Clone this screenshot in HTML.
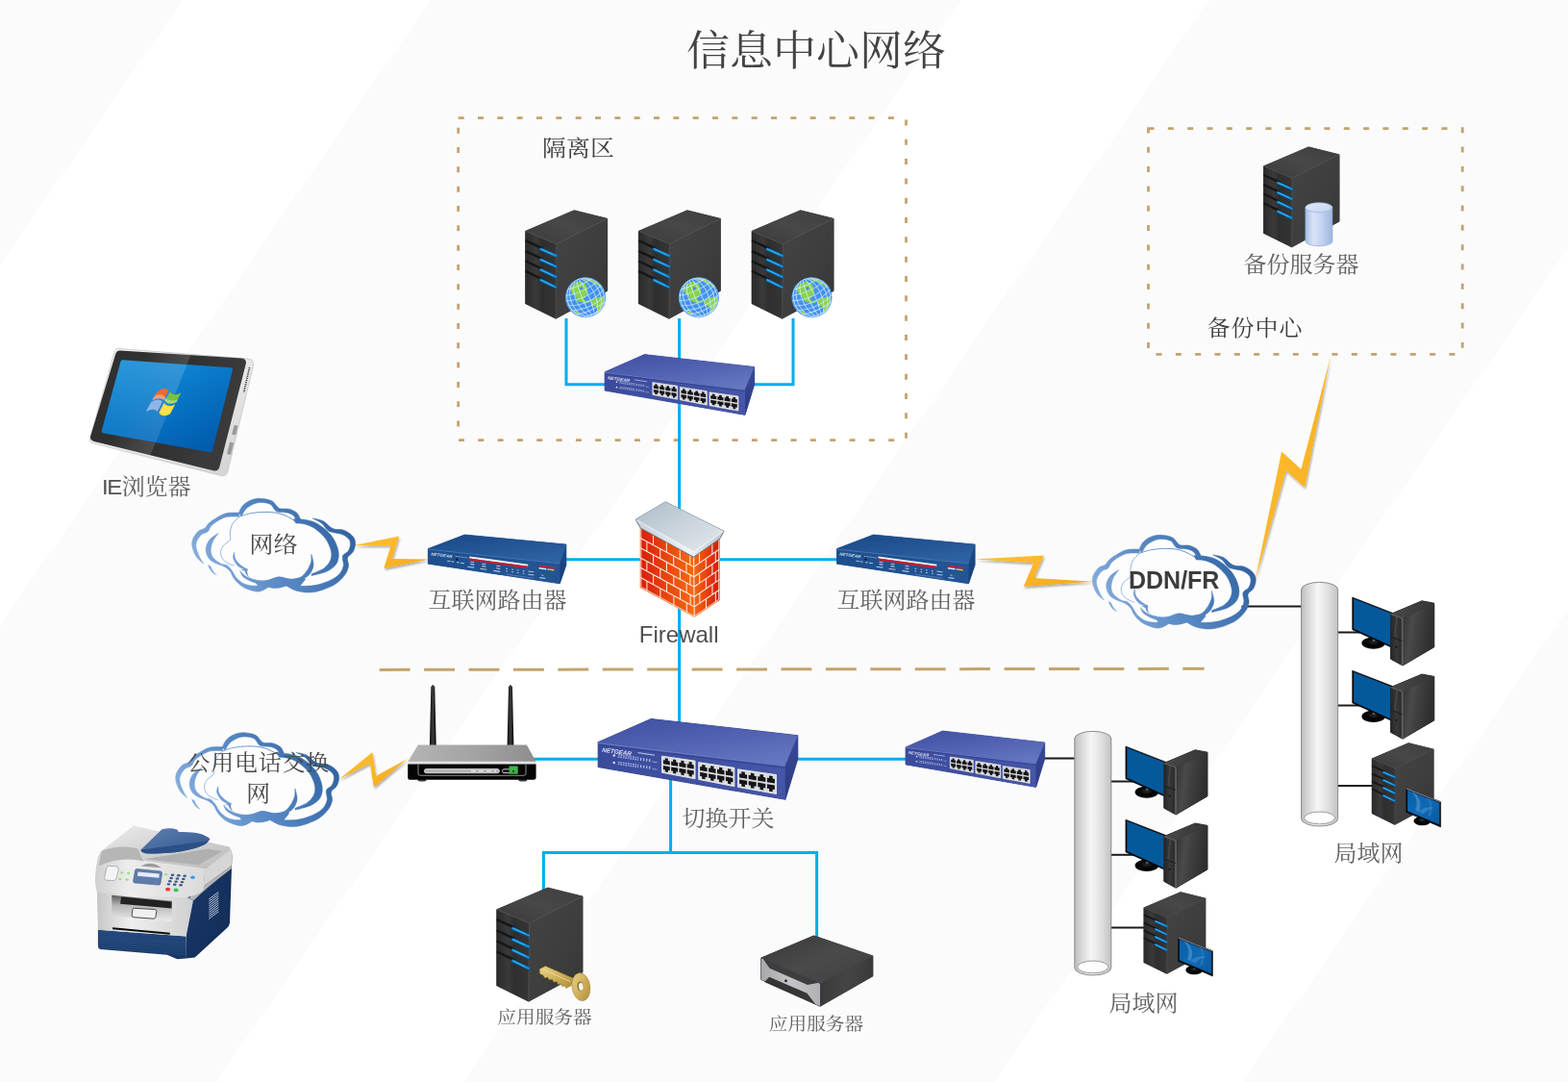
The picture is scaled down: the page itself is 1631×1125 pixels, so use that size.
<!DOCTYPE html>
<html lang="zh-CN">
<head>
<meta charset="utf-8">
<title>信息中心网络</title>
<style>
html,body{margin:0;padding:0;background:#fbfbfb;}
body{width:1631px;height:1125px;overflow:hidden;font-family:"Liberation Sans","Noto Sans CJK SC",sans-serif;}
svg{display:block;}
</style>
</head>
<body>
<svg width="1631" height="1125" viewBox="0 0 1631 1125">
<defs>
<linearGradient id="twTop" x1="0" y1="1" x2="1" y2="0" gradientUnits="objectBoundingBox"><stop offset="0" stop-color="#3a3a3a"/><stop offset="0.5" stop-color="#484848"/><stop offset="1" stop-color="#3e3e3e"/></linearGradient><linearGradient id="twFront" x1="0" y1="0" x2="1" y2="0" gradientUnits="objectBoundingBox"><stop offset="0" stop-color="#2a2a2a"/><stop offset="0.35" stop-color="#3a3a3a"/><stop offset="0.55" stop-color="#2e2e2e"/><stop offset="1" stop-color="#353535"/></linearGradient><linearGradient id="twSide" x1="0" y1="0" x2="1" y2="1" gradientUnits="objectBoundingBox"><stop offset="0" stop-color="#444444"/><stop offset="0.6" stop-color="#3d3d3d"/><stop offset="1" stop-color="#363636"/></linearGradient><linearGradient id="twLed" x1="0" y1="0" x2="0" y2="1" gradientUnits="objectBoundingBox"><stop offset="0" stop-color="#0a6fb0"/><stop offset="0.45" stop-color="#2cb4ff"/><stop offset="1" stop-color="#0a5f9c"/></linearGradient><g id="tower"><polygon points="50.60,0.00 85.10,8.60 85.10,83.70 31.60,112.60 0.00,97.00 0.00,21.60" fill="#2b2b2b" stroke="#2b2b2b" stroke-width="0.7" stroke-linejoin="round"/><polygon points="0.00,21.60 32.20,35.00 31.60,112.60 0.00,97.00" fill="url(#twFront)" /><polygon points="32.20,35.00 85.10,8.60 85.10,83.70 31.60,112.60" fill="url(#twSide)" /><polygon points="50.60,0.00 85.10,8.60 32.20,35.00 0.00,21.60" fill="url(#twTop)" /><polyline points="0.00,21.60 32.20,35.00 85.10,8.60" fill="none" stroke="#5a5a5a" stroke-width="0.9" stroke-opacity="0.8"/><line x1="32.2" y1="35" x2="31.6" y2="112.6" stroke="#505050" stroke-width="0.9"/><line x1="0.00" y1="31.50" x2="17.99" y2="39.61" stroke="#161616" stroke-width="2.4"/><line x1="16.05" y1="40.39" x2="31.81" y2="47.26" stroke="#0a4f86" stroke-width="3.6" stroke-linecap="round"/><line x1="16.05" y1="40.39" x2="31.81" y2="47.26" stroke="#1793dc" stroke-width="2" stroke-linecap="round"/><line x1="16.55" y1="40.19" x2="28.11" y2="45.66" stroke="#45b9f5" stroke-width="0.8" stroke-linecap="round"/><line x1="0.00" y1="42.35" x2="17.94" y2="50.64" stroke="#161616" stroke-width="2.4"/><line x1="16.01" y1="51.40" x2="31.72" y2="58.44" stroke="#0a4f86" stroke-width="3.6" stroke-linecap="round"/><line x1="16.01" y1="51.40" x2="31.72" y2="58.44" stroke="#1793dc" stroke-width="2" stroke-linecap="round"/><line x1="16.51" y1="51.20" x2="28.02" y2="56.84" stroke="#45b9f5" stroke-width="0.8" stroke-linecap="round"/><line x1="0.00" y1="52.76" x2="17.90" y2="61.22" stroke="#161616" stroke-width="2.4"/><line x1="15.97" y1="61.96" x2="31.64" y2="69.14" stroke="#0a4f86" stroke-width="3.6" stroke-linecap="round"/><line x1="15.97" y1="61.96" x2="31.64" y2="69.14" stroke="#1793dc" stroke-width="2" stroke-linecap="round"/><line x1="16.47" y1="61.76" x2="27.94" y2="67.54" stroke="#45b9f5" stroke-width="0.8" stroke-linecap="round"/><line x1="0.00" y1="63.17" x2="17.85" y2="71.79" stroke="#161616" stroke-width="2.4"/><line x1="15.93" y1="72.52" x2="31.55" y2="79.85" stroke="#0a4f86" stroke-width="3.6" stroke-linecap="round"/><line x1="15.93" y1="72.52" x2="31.55" y2="79.85" stroke="#1793dc" stroke-width="2" stroke-linecap="round"/><line x1="16.43" y1="72.32" x2="27.85" y2="78.25" stroke="#45b9f5" stroke-width="0.8" stroke-linecap="round"/></g><radialGradient id="glb" cx="0.42" cy="0.4" r="0.7" gradientUnits="objectBoundingBox"><stop offset="0" stop-color="#4a9af2"/><stop offset="0.7" stop-color="#3d8eec"/><stop offset="1" stop-color="#3384e4"/></radialGradient><clipPath id="glbClip"><circle cx="0" cy="0" r="20.7"/></clipPath><g id="globe"><circle cx="0" cy="0" r="20.9" fill="url(#glb)"/><g clip-path="url(#glbClip)"><path d="M-15.8,-9.3 C-15.4,-11.1 -12.4,-13.3 -11.0,-14.5 C-9.6,-15.7 -8.9,-16.4 -7.3,-16.4 C-5.6,-16.4 -2.6,-15.7 -1.1,-14.7 C0.4,-13.7 1.1,-12.0 1.6,-10.2 C2.1,-8.4 2.6,-5.9 2.0,-4.0 C1.4,-2.1 -1.8,0.0 -2.0,1.3 C-2.2,2.6 -0.3,3.3 0.7,3.6 C1.7,3.9 3.4,2.8 3.8,3.1 C4.2,3.4 4.4,4.9 3.3,5.3 C2.2,5.7 -1.0,5.7 -2.9,5.3 C-4.8,4.9 -6.9,4.2 -8.2,3.1 C-9.4,2.0 -9.5,-0.1 -10.4,-1.3 C-11.3,-2.5 -12.7,-2.7 -13.6,-4.0 C-14.5,-5.3 -16.2,-7.6 -15.8,-9.3 Z" fill="#88d34c"/><path d="M6.0,3.1 C7.0,1.7 10.6,0.6 12.7,0.0 C14.8,-0.6 17.3,-1.4 18.4,-0.4 C19.5,0.6 20.1,3.4 19.5,5.8 C18.9,8.2 16.3,12.2 14.9,13.8 C13.5,15.4 11.8,16.2 11.3,15.6 C10.9,15.0 12.9,11.4 12.2,10.2 C11.5,9.0 7.9,9.6 6.9,8.4 C5.9,7.2 5.0,4.5 6.0,3.1 Z" fill="#88d34c"/><path d="M-2.9,-20.0 C-1.6,-20.1 3.0,-20.0 6.0,-18.9 C9.0,-17.8 13.1,-14.7 14.9,-13.2 C16.8,-11.7 17.5,-9.9 17.1,-9.8 C16.7,-9.7 14.5,-11.3 12.7,-12.4 C10.8,-13.5 8.4,-15.4 6.0,-16.4 C3.6,-17.4 -0.5,-17.8 -2.0,-18.4 C-3.5,-19.0 -4.2,-19.9 -2.9,-20.0 Z" fill="#88d34c"/><path d="M-12.2,13.8 C-12.1,13.4 -10.6,13.6 -9.6,14.2 C-8.6,14.8 -6.3,16.9 -6.4,17.3 C-6.5,17.7 -9.4,17.0 -10.4,16.4 C-11.4,15.8 -12.3,14.2 -12.2,13.8 Z" fill="#88d34c"/><circle cx="-4.5" cy="-9.5" r="1.6" fill="#3f90ee"/><g transform="rotate(-24)" fill="none" stroke="#d4e9ff" stroke-width="0.9" stroke-opacity="0.85"><ellipse cx="0" cy="0" rx="3.5" ry="20.8"/><ellipse cx="0" cy="0" rx="10" ry="20.8"/><ellipse cx="0" cy="0" rx="15.5" ry="20.8"/><ellipse cx="0" cy="0" rx="19" ry="20.8"/><path d="M-21,-16.5 Q0,-11.5 21,-16.5"/><path d="M-21,-11 Q0,-4.0 21,-11"/><path d="M-21,-5.5 Q0,3.5 21,-5.5"/><path d="M-21,0 Q0,10 21,0"/><path d="M-21,5.5 Q0,14.5 21,5.5"/><path d="M-21,11 Q0,18.0 21,11"/><path d="M-21,16.5 Q0,21.5 21,16.5"/></g></g><circle cx="0" cy="0" r="20.5" fill="none" stroke="#6fb2f8" stroke-width="0.8" stroke-opacity="0.7"/></g><linearGradient id="cylG" x1="0" y1="0" x2="1" y2="0" gradientUnits="objectBoundingBox"><stop offset="0" stop-color="#a9bfe6"/><stop offset="0.3" stop-color="#d9e4f8"/><stop offset="0.6" stop-color="#c3d3f0"/><stop offset="1" stop-color="#9fb5de"/></linearGradient><linearGradient id="cylT" x1="0" y1="0" x2="1" y2="1" gradientUnits="objectBoundingBox"><stop offset="0" stop-color="#e4ecfb"/><stop offset="1" stop-color="#c0d0ee"/></linearGradient><g id="cyl"><path d="M0,5 L0,40 A14,5 0 0 0 28,40 L28,5 Z" fill="url(#cylG)" stroke="#8ea5d0" stroke-width="0.7"/><ellipse cx="14" cy="5" rx="14" ry="5" fill="url(#cylT)" stroke="#9fb3da" stroke-width="0.7"/></g><linearGradient id="keyG" x1="0" y1="0" x2="1" y2="1" gradientUnits="objectBoundingBox"><stop offset="0" stop-color="#ead48c"/><stop offset="0.5" stop-color="#d0b05a"/><stop offset="1" stop-color="#ad8c38"/></linearGradient><g id="key"><path d="M0.4,3 L6.4,0 L36,13 L33,20.5 L27.5,23 L26.8,20.4 L24,21.2 L22.6,18.4 L19.6,19 L18.2,16.2 L15,16.6 L13.4,13.8 L10.4,14.2 L8.6,11.6 L5.6,12.2 L4,9.4 L0.6,8 Z" fill="url(#keyG)" stroke="#9a7e30" stroke-width="0.5"/><path d="M4,3.6 L32,16" stroke="#f4e6b0" stroke-width="1" stroke-opacity="0.7" fill="none"/><ellipse cx="43.4" cy="21.6" rx="9.4" ry="14.6" transform="rotate(-8 43.4 21.6)" fill="url(#keyG)" stroke="#9a7e30" stroke-width="0.5"/><ellipse cx="42.8" cy="21" rx="3.1" ry="4.8" transform="rotate(-8 42.8 21)" fill="#7a6428"/><ellipse cx="43.3" cy="21.3" rx="2.4" ry="4" transform="rotate(-8 43.3 21.3)" fill="#f7f4ea"/></g>
<linearGradient id="swTop" x1="0.2" y1="0" x2="0.8" y2="1" gradientUnits="objectBoundingBox"><stop offset="0" stop-color="#4252a4"/><stop offset="0.55" stop-color="#5565b4"/><stop offset="1" stop-color="#6577c2"/></linearGradient><linearGradient id="swFront" x1="0" y1="0" x2="1" y2="0" gradientUnits="objectBoundingBox"><stop offset="0" stop-color="#3b4b9c"/><stop offset="1" stop-color="#4656a8"/></linearGradient><linearGradient id="swSide" x1="0" y1="0" x2="0" y2="1" gradientUnits="objectBoundingBox"><stop offset="0" stop-color="#3a4a98"/><stop offset="1" stop-color="#2c3a80"/></linearGradient><g id="switch"><polygon points="41.30,0.00 155.60,12.90 155.60,31.10 145.90,62.80 0.00,37.50 0.00,18.20" fill="#3a4998" stroke="#3a4998" stroke-width="0.8" stroke-linejoin="round"/><polygon points="0.00,18.20 145.90,35.90 145.90,62.80 0.00,37.50" fill="url(#swFront)" /><polygon points="145.90,35.90 155.60,12.90 155.60,31.10 145.90,62.80" fill="url(#swSide)" /><polygon points="41.30,0.00 155.60,12.90 145.90,35.90 0.00,18.20" fill="url(#swTop)" /><polyline points="0.00,18.80 145.90,36.50" fill="none" stroke="#6f80c8" stroke-width="1" stroke-opacity="0.9"/><polyline points="0.00,20.00 145.90,38.10" fill="none" stroke="#2f3d86" stroke-width="0.8" stroke-opacity="0.8"/><polygon points="49.70,29.00 75.60,32.70 75.60,46.70 49.70,41.80" fill="#dcdcdc" stroke="#f2f2f2" stroke-width="0.6"/><polygon points="50.74,35.06 50.74,32.10 52.16,32.32 52.16,30.64 54.49,30.99 54.49,32.68 55.92,32.90 55.92,35.91" fill="#14151b" /><polygon points="56.95,36.08 56.95,33.06 58.38,33.28 58.38,31.56 60.71,31.90 60.71,33.63 62.13,33.85 62.13,36.93" fill="#14151b" /><polygon points="63.17,37.10 63.17,34.01 64.59,34.23 64.59,32.48 66.92,32.82 66.92,34.59 68.35,34.81 68.35,37.95" fill="#14151b" /><polygon points="69.38,38.12 69.38,34.97 70.81,35.18 70.81,33.39 73.14,33.74 73.14,35.54 74.56,35.76 74.56,38.97" fill="#14151b" /><polygon points="50.74,36.34 55.92,37.22 55.92,40.23 54.49,39.97 54.49,41.66 52.16,41.23 52.16,39.55 50.74,39.30" fill="#14151b" /><polygon points="56.95,37.39 62.13,38.27 62.13,41.34 60.71,41.09 60.71,42.82 58.38,42.39 58.38,40.67 56.95,40.41" fill="#14151b" /><polygon points="63.17,38.44 68.35,39.32 68.35,42.46 66.92,42.20 66.92,43.97 64.59,43.54 64.59,41.78 63.17,41.53" fill="#14151b" /><polygon points="69.38,39.49 74.56,40.37 74.56,43.57 73.14,43.32 73.14,45.12 70.81,44.69 70.81,42.90 69.38,42.64" fill="#14151b" /><polygon points="78.30,33.80 106.20,38.10 106.20,52.60 78.30,47.20" fill="#dcdcdc" stroke="#f2f2f2" stroke-width="0.6"/><polygon points="79.42,40.16 79.42,37.06 80.95,37.31 80.95,35.56 83.46,35.96 83.46,37.72 85.00,37.97 85.00,41.12" fill="#14151b" /><polygon points="86.11,41.31 86.11,38.16 87.65,38.41 87.65,36.62 90.16,37.01 90.16,38.82 91.69,39.07 91.69,42.27" fill="#14151b" /><polygon points="92.81,42.46 92.81,39.25 94.34,39.50 94.34,37.68 96.85,38.07 96.85,39.91 98.39,40.16 98.39,43.42" fill="#14151b" /><polygon points="99.50,43.62 99.50,40.34 101.04,40.59 101.04,38.73 103.55,39.13 103.55,41.00 105.08,41.25 105.08,44.58" fill="#14151b" /><polygon points="79.42,41.50 85.00,42.48 85.00,45.63 83.46,45.34 83.46,47.11 80.95,46.63 80.95,44.88 79.42,44.59" fill="#14151b" /><polygon points="86.11,42.68 91.69,43.66 91.69,46.87 90.16,46.58 90.16,48.39 87.65,47.91 87.65,46.12 86.11,45.83" fill="#14151b" /><polygon points="92.81,43.86 98.39,44.84 98.39,48.11 96.85,47.82 96.85,49.66 94.34,49.18 94.34,47.36 92.81,47.07" fill="#14151b" /><polygon points="99.50,45.04 105.08,46.02 105.08,49.35 103.55,49.06 103.55,50.94 101.04,50.46 101.04,48.60 99.50,48.31" fill="#14151b" /><polygon points="108.90,39.20 138.90,43.50 138.90,58.50 108.90,53.10" fill="#dcdcdc" stroke="#f2f2f2" stroke-width="0.6"/><polygon points="110.10,45.79 110.10,42.58 111.75,42.83 111.75,41.01 114.45,41.41 114.45,43.24 116.10,43.49 116.10,46.75" fill="#14151b" /><polygon points="117.30,46.94 117.30,43.67 118.95,43.92 118.95,42.07 121.65,42.46 121.65,44.33 123.30,44.58 123.30,47.90" fill="#14151b" /><polygon points="124.50,48.09 124.50,44.76 126.15,45.01 126.15,43.13 128.85,43.52 128.85,45.42 130.50,45.68 130.50,49.05" fill="#14151b" /><polygon points="131.70,49.25 131.70,45.86 133.35,46.11 133.35,44.18 136.05,44.58 136.05,46.52 137.70,46.77 137.70,50.21" fill="#14151b" /><polygon points="110.10,47.18 116.10,48.16 116.10,51.42 114.45,51.14 114.45,52.97 111.75,52.49 111.75,50.67 110.10,50.39" fill="#14151b" /><polygon points="117.30,48.36 123.30,49.34 123.30,52.66 121.65,52.38 121.65,54.25 118.95,53.77 118.95,51.91 117.30,51.63" fill="#14151b" /><polygon points="124.50,49.54 130.50,50.52 130.50,53.90 128.85,53.62 128.85,55.52 126.15,55.04 126.15,53.15 124.50,52.87" fill="#14151b" /><polygon points="131.70,50.72 137.70,51.70 137.70,55.14 136.05,54.86 136.05,56.80 133.35,56.32 133.35,54.39 131.70,54.11" fill="#14151b" /><line x1="15.5" y1="28.8" x2="31.5" y2="31.1" stroke="#aeb8e4" stroke-opacity="0.85" stroke-width="2.6" stroke-dasharray="1.3 0.6"/><line x1="15.5" y1="28.8" x2="31.5" y2="31.1" stroke="#3d4d9e" stroke-width="0.5"/><line x1="32.8" y1="31.3" x2="42" y2="32.6" stroke="#c4ccee" stroke-opacity="0.85" stroke-width="2.2" stroke-dasharray="1 1.3"/><line x1="42.4" y1="33.4" x2="46" y2="33.9" stroke="#c4ccee" stroke-opacity="0.7" stroke-width="0.7"/><circle cx="12.4" cy="28.5" r="0.9" fill="#dfe4f6"/><line x1="15.5" y1="34.4" x2="31.5" y2="36.699999999999996" stroke="#aeb8e4" stroke-opacity="0.85" stroke-width="2.6" stroke-dasharray="1.3 0.6"/><line x1="15.5" y1="34.4" x2="31.5" y2="36.699999999999996" stroke="#3d4d9e" stroke-width="0.5"/><line x1="32.8" y1="36.9" x2="42" y2="38.199999999999996" stroke="#c4ccee" stroke-opacity="0.85" stroke-width="2.2" stroke-dasharray="1 1.3"/><line x1="42.4" y1="39.0" x2="46" y2="39.5" stroke="#c4ccee" stroke-opacity="0.7" stroke-width="0.7"/><circle cx="12.4" cy="34.1" r="0.9" fill="#dfe4f6"/><line x1="31" y1="26.3" x2="44" y2="28.2" stroke="#aab4e0" stroke-width="0.9"/><text transform="matrix(1,0.135,-0.2,1,2.6,25.6)" font-family="'Liberation Sans',sans-serif" font-weight="700" font-style="italic" font-size="4.6" fill="#e4e8f8" fill-opacity="0.92" textLength="23" lengthAdjust="spacingAndGlyphs">NETGEAR</text><polygon points="141.50,53.50 143.50,53.80 143.50,58.80 141.50,58.50" fill="#5565b4" stroke="#2c3a80" stroke-width="0.4"/></g><linearGradient id="rtTop" x1="0.2" y1="0" x2="0.8" y2="1" gradientUnits="objectBoundingBox"><stop offset="0" stop-color="#1b4a87"/><stop offset="0.6" stop-color="#275999"/><stop offset="1" stop-color="#2f64a4"/></linearGradient><linearGradient id="rtFront" x1="0" y1="0" x2="1" y2="0" gradientUnits="objectBoundingBox"><stop offset="0" stop-color="#1d4f8e"/><stop offset="1" stop-color="#245595"/></linearGradient><linearGradient id="rtSide" x1="0" y1="0" x2="0" y2="1" gradientUnits="objectBoundingBox"><stop offset="0" stop-color="#1c4c8a"/><stop offset="1" stop-color="#163f76"/></linearGradient><g id="router"><polygon points="38.00,0.00 143.60,10.10 143.60,31.50 137.00,50.80 0.00,30.20 0.00,14.60" fill="#1f5192" stroke="#1f5192" stroke-width="0.8" stroke-linejoin="round"/><polygon points="0.00,14.60 137.00,29.40 137.00,50.80 0.00,30.20" fill="url(#rtFront)" /><polygon points="137.00,29.40 143.60,10.10 143.60,31.50 137.00,50.80" fill="url(#rtSide)" /><polygon points="38.00,0.00 143.60,10.10 137.00,29.40 0.00,14.60" fill="url(#rtTop)" /><polyline points="0.00,15.10 137.00,29.90" fill="none" stroke="#4b7dbb" stroke-width="0.9" stroke-opacity="0.9"/><polygon points="43.00,22.40 103.90,30.70 103.90,32.70 43.00,24.50" fill="#f3f3f6" /><polygon points="43.00,24.50 103.90,32.70 103.90,34.90 43.00,26.70" fill="#c8202c" /><polygon points="115.40,31.60 132.50,33.90 132.50,35.60 115.40,33.30" fill="#c8202c" /><polygon points="115.40,34.00 123.00,35.00 123.00,36.40 115.40,35.40" fill="#e8ecf5" /><polygon points="124.00,35.20 131.00,36.10 131.00,37.50 124.00,36.60" fill="#e8c83a" /><circle cx="30" cy="25.6" r="1.2" fill="#0c1830"/><line x1="28.5" y1="22.3" x2="41.5" y2="24.1" stroke="#9db6dc" stroke-width="0.9" stroke-dasharray="1 0.5"/><line x1="20" y1="27.2" x2="23" y2="27.605" stroke="#c9d6ec" stroke-width="1.1" stroke-opacity="0.85"/><line x1="24" y1="27.8" x2="27" y2="28.205000000000002" stroke="#c9d6ec" stroke-width="1.1" stroke-opacity="0.85"/><line x1="30" y1="28.6" x2="32" y2="28.87" stroke="#c9d6ec" stroke-width="1.1" stroke-opacity="0.85"/><line x1="33.5" y1="29.2" x2="37.5" y2="29.74" stroke="#c9d6ec" stroke-width="1.1" stroke-opacity="0.85"/><line x1="44" y1="28.2" x2="48" y2="28.74" stroke="#c9d6ec" stroke-width="1.1" stroke-opacity="0.85"/><line x1="44" y1="30.6" x2="48" y2="31.14" stroke="#c9d6ec" stroke-width="1.1" stroke-opacity="0.85"/><line x1="41" y1="33.2" x2="48" y2="34.145" stroke="#c9d6ec" stroke-width="1.1" stroke-opacity="0.85"/><line x1="56" y1="30.2" x2="60" y2="30.74" stroke="#c9d6ec" stroke-width="1.1" stroke-opacity="0.85"/><line x1="56" y1="32.6" x2="60" y2="33.14" stroke="#c9d6ec" stroke-width="1.1" stroke-opacity="0.85"/><line x1="54" y1="35.3" x2="61" y2="36.245" stroke="#c9d6ec" stroke-width="1.1" stroke-opacity="0.85"/><line x1="71" y1="32.2" x2="75" y2="32.74" stroke="#c9d6ec" stroke-width="1.1" stroke-opacity="0.85"/><line x1="71" y1="34.8" x2="75" y2="35.339999999999996" stroke="#c9d6ec" stroke-width="1.1" stroke-opacity="0.85"/><line x1="68" y1="37.4" x2="75" y2="38.345" stroke="#c9d6ec" stroke-width="1.1" stroke-opacity="0.85"/><line x1="81" y1="35.2" x2="82.6" y2="35.416000000000004" stroke="#c9d6ec" stroke-width="1.1" stroke-opacity="0.85"/><line x1="87" y1="36.0" x2="88.6" y2="36.216" stroke="#c9d6ec" stroke-width="1.1" stroke-opacity="0.85"/><line x1="92.5" y1="36.8" x2="94.1" y2="37.016" stroke="#c9d6ec" stroke-width="1.1" stroke-opacity="0.85"/><line x1="98.5" y1="37.6" x2="100.1" y2="37.816" stroke="#c9d6ec" stroke-width="1.1" stroke-opacity="0.85"/><line x1="81" y1="37.8" x2="82.6" y2="38.016" stroke="#c9d6ec" stroke-width="1.1" stroke-opacity="0.85"/><line x1="87" y1="38.6" x2="88.6" y2="38.816" stroke="#c9d6ec" stroke-width="1.1" stroke-opacity="0.85"/><line x1="92.5" y1="39.4" x2="94.1" y2="39.616" stroke="#c9d6ec" stroke-width="1.1" stroke-opacity="0.85"/><line x1="98.5" y1="40.2" x2="100.1" y2="40.416000000000004" stroke="#c9d6ec" stroke-width="1.1" stroke-opacity="0.85"/><line x1="104" y1="38.0" x2="110" y2="38.81" stroke="#c9d6ec" stroke-width="1.1" stroke-opacity="0.85"/><line x1="104" y1="41.2" x2="110" y2="42.010000000000005" stroke="#c9d6ec" stroke-width="1.1" stroke-opacity="0.85"/><line x1="116" y1="44.6" x2="122" y2="45.410000000000004" stroke="#c9d6ec" stroke-width="1.1" stroke-opacity="0.85"/><line x1="118" y1="42.0" x2="120" y2="42.27" stroke="#c9d6ec" stroke-width="1.1" stroke-opacity="0.85"/><line x1="81" y1="41.2" x2="110" y2="45.1" stroke="#9db6dc" stroke-width="0.4"/><text transform="matrix(1,0.135,-0.2,1,2.6,21.4)" font-family="'Liberation Sans',sans-serif" font-weight="700" font-style="italic" font-size="4.4" fill="#dfe6f4" fill-opacity="0.9" textLength="22" lengthAdjust="spacingAndGlyphs">NETGEAR</text><polygon points="130.30,43.20 132.30,43.50 132.30,47.40 130.30,47.10" fill="#2d62a5" stroke="#153c72" stroke-width="0.4"/></g>
<linearGradient id="fwL" x1="0" y1="0" x2="1" y2="0" gradientUnits="objectBoundingBox"><stop offset="0" stop-color="#d81e0c"/><stop offset="0.55" stop-color="#ea4a10"/><stop offset="1" stop-color="#f56a12"/></linearGradient><linearGradient id="fwR" x1="0" y1="0" x2="1" y2="0" gradientUnits="objectBoundingBox"><stop offset="0" stop-color="#f56a12"/><stop offset="0.5" stop-color="#e8400f"/><stop offset="1" stop-color="#d2180c"/></linearGradient><linearGradient id="fwCap" x1="0" y1="0" x2="1" y2="1" gradientUnits="objectBoundingBox"><stop offset="0" stop-color="#aebcc8"/><stop offset="0.5" stop-color="#c9d4dc"/><stop offset="1" stop-color="#e4eaee"/></linearGradient><linearGradient id="fwLip" x1="0" y1="0" x2="1" y2="0" gradientUnits="objectBoundingBox"><stop offset="0" stop-color="#c4ced6"/><stop offset="0.6" stop-color="#eef2f5"/><stop offset="1" stop-color="#b8c3cc"/></linearGradient><g id="firewall"><polygon points="5.00,27.40 60.40,57.20 87.10,38.60 87.10,102.00 61.00,119.50 5.00,89.00" fill="#f08a3a" stroke="#f4a060" stroke-width="1.2" stroke-linejoin="round"/><polygon points="5.00,27.40 60.40,57.20 61.00,119.50 5.00,89.00" fill="url(#fwL)" /><polygon points="60.40,57.20 87.10,38.60 87.10,102.00 61.00,119.50" fill="url(#fwR)" /><path d="M5.00,37.67 L60.50,67.58 L87.10,49.17 M5.00,47.93 L60.60,77.97 L87.10,59.73 M5.00,58.20 L60.70,88.35 L87.10,70.30 M5.00,68.47 L60.80,98.73 L87.10,80.87 M5.00,78.73 L60.90,109.12 L87.10,91.43 M18.30,34.55 L18.32,44.85 M32.15,42.00 L32.20,52.33 M46.00,49.45 L46.07,59.80 M56.52,55.11 L56.62,65.49 M66.27,53.11 L66.35,63.53 M79.62,43.81 L79.65,54.32 M11.66,41.26 L11.67,51.54 M25.53,48.74 L25.57,59.05 M39.41,56.22 L39.47,66.55 M52.73,63.40 L52.82,73.76 M73.00,58.93 L73.05,69.40 M83.11,51.93 L83.12,62.47 M18.34,55.14 L18.37,65.44 M32.24,62.65 L32.29,72.97 M46.14,70.16 L46.22,80.51 M56.71,75.86 L56.80,86.24 M66.43,73.96 L66.51,84.38 M79.68,64.84 L79.71,75.35 M11.68,61.82 L11.70,72.10 M25.61,69.36 L25.65,79.67 M39.53,76.89 L39.60,87.23 M52.90,84.13 L52.99,94.50 M73.11,79.87 L73.16,90.34 M83.14,73.01 L83.16,83.55 M18.39,75.73 L18.42,86.03 M32.34,83.30 L32.39,93.62 M46.29,90.86 L46.37,101.22 M56.89,96.61 L56.99,106.99 M66.59,94.80 L66.66,105.23 M79.74,85.87 L79.76,96.38 M11.71,82.38 L11.72,92.66 M25.68,89.98 L25.72,100.28 M39.66,97.57 L39.72,107.91 M53.07,104.86 L53.16,115.23 M73.21,100.81 L73.27,111.28 M83.17,94.09 L83.19,104.62 M60.40,57.20 L61.00,119.50 " fill="none" stroke="#fff3ea" stroke-width="1.05" stroke-opacity="0.95"/><path d="M5.60,27.40 L5.60,88.50 L61.00,118.80 L86.50,101.50 L86.50,38.60" fill="none" stroke="#ffe2cc" stroke-width="0.9"/><polygon points="0.00,18.40 31.10,0.00 91.80,30.50 87.70,38.20 60.30,57.40 5.00,27.20" fill="url(#fwLip)" stroke="#5f6a72" stroke-width="0.9" stroke-linejoin="round"/><polygon points="0.00,18.40 31.10,0.00 91.80,30.50 60.60,51.60" fill="url(#fwCap)" /><polyline points="0.80,18.90 60.60,51.90 91.00,31.00" fill="none" stroke="#f4f7f9" stroke-width="0.9"/></g><linearGradient id="boltG" x1="0" y1="0" x2="1" y2="1" gradientUnits="objectBoundingBox"><stop offset="0" stop-color="#fcc035"/><stop offset="0.5" stop-color="#fbb62a"/><stop offset="1" stop-color="#f6a81c"/></linearGradient><filter id="boltSh" x="-20%" y="-20%" width="150%" height="150%"><feGaussianBlur in="SourceAlpha" stdDeviation="1.2"/><feOffset dx="1.4" dy="2" result="o"/><feComponentTransfer><feFuncA type="linear" slope="0.33"/></feComponentTransfer><feMerge><feMergeNode/><feMergeNode in="SourceGraphic"/></feMerge></filter>
<linearGradient id="cldG" x1="150" y1="900" x2="1450" y2="150" gradientUnits="userSpaceOnUse"><stop offset="0" stop-color="#8fb4e0"/><stop offset="0.4" stop-color="#5e8ec8"/><stop offset="0.75" stop-color="#3f72b0"/><stop offset="1" stop-color="#2f609c"/></linearGradient><g id="cloud" transform="scale(0.1165)"><path d="M120,470 C120,410 170,360 240,345 C290,270 400,225 520,225 C560,150 630,100 710,100 C780,100 830,140 850,185 C930,190 1000,220 1030,280 C1120,270 1260,310 1310,370 C1420,380 1500,420 1500,480 C1500,530 1470,570 1430,590 C1460,690 1380,780 1270,820 C1180,860 1080,870 1000,860 C930,880 830,880 760,850 C700,890 600,890 540,860 C480,830 430,770 400,700 C300,680 220,620 180,640 C140,600 120,540 120,470 Z" fill="#fdfdfe"/><path d="M507.8,199.0 C496.5,198.8 464.1,196.0 440.0,198.0 C415.9,200.0 396.3,197.0 363.5,211.2 C330.7,225.4 270.7,262.8 243.3,283.4 C215.9,304.0 216.6,321.6 199.2,335.0 C181.8,348.4 157.8,345.4 139.1,363.5 C120.4,381.6 95.0,417.0 87.0,443.7 C79.0,470.4 83.7,497.1 91.0,523.8 C98.3,550.5 115.1,582.6 131.1,604.0 C147.1,625.4 177.8,644.0 187.2,652.0 L187.2,652.0 C182.0,643.7 166.5,623.4 156.0,602.0 C145.5,580.6 129.5,547.1 124.0,523.8 C118.5,500.5 116.1,483.4 123.1,462.0 C130.1,440.6 149.3,411.3 166.0,395.6 C182.7,379.9 207.2,382.6 223.2,368.0 C239.2,353.4 238.6,328.5 262.0,308.0 C285.4,287.5 335.5,257.7 363.5,245.0 C391.5,232.3 407.2,234.2 430.0,232.0 C452.8,229.8 488.3,232.0 500.0,232.0 Z" fill="url(#cldG)" stroke="url(#cldG)" stroke-width="4.5" stroke-linejoin="round"/><path d="M223,664 C235,668 245,672 251,676 C262,710 282,738 307,756 C292,752 282,746 275,740 C255,725 240,705 223,664 Z" fill="url(#cldG)"/><path d="M318.0,382.0 C305.6,390.9 261.8,413.3 243.3,435.6 C224.8,457.9 209.9,489.1 207.2,515.8 C204.5,542.5 214.5,574.5 227.2,595.9 C239.9,617.3 260.6,630.6 283.3,644.0 C306.0,657.4 340.4,663.4 363.5,676.1 C386.6,688.8 405.6,700.9 422.0,720.0 C438.4,739.1 442.2,767.3 462.0,791.0 C481.8,814.7 508.2,843.5 541.0,862.0 C573.8,880.5 628.8,898.0 659.0,902.0 C689.2,906.0 704.8,892.7 722.0,886.0 C739.2,879.3 755.3,866.0 762.0,862.0 L762.0,820.0 C751.7,824.2 723.7,840.0 700.0,845.0 C676.3,850.0 646.7,852.8 620.0,850.0 C593.3,847.2 563.3,839.7 540.0,828.0 C516.7,816.3 496.7,798.8 480.0,780.0 C463.3,761.2 454.1,733.6 440.0,715.0 C425.9,696.4 412.4,678.6 395.6,668.1 C378.9,657.6 359.6,662.7 339.5,652.0 C319.4,641.3 290.0,622.7 275.3,604.0 C260.6,585.3 252.6,563.8 251.3,539.8 C250.0,515.8 256.2,486.0 267.3,459.7 C278.4,433.4 309.6,394.9 318.0,382.0 Z" fill="url(#cldG)" stroke="url(#cldG)" stroke-width="4.5" stroke-linejoin="round"/><path d="M640,805 C680,812 730,808 770,798 C800,788 830,776 857,771 C890,776 930,790 960,792 C990,792 1020,788 1060,780 L1100,790 L1015,894 C985,880 955,862 928,851 C915,856 905,860 896,862 C870,870 840,876 817,874 C795,872 778,868 762,862 C745,875 725,890 700,897 Z" fill="url(#cldG)"/><path d="M459.7,668 C454.4,666.7 443.6,668.0 427.6,660.0 C411.6,652.0 378.2,637.4 363.5,620.0 C348.8,602.6 339.5,577.2 339.5,555.8 C339.5,534.4 349.5,511.1 363.5,491.7 C377.5,472.3 413.6,458.3 423.6,439.6 C433.6,420.9 420.2,402.9 423.6,379.5 C427.0,356.1 429.7,324.1 443.7,299.4 C457.7,274.7 497.1,242.7 507.8,231.3 " fill="none" stroke="url(#cldG)" stroke-width="6"/><path d="M500,236 C516.7,230.8 563.3,212.3 600.0,205.0 C636.7,197.7 681.7,193.2 720.0,192.0 C758.3,190.8 796.7,192.5 830.0,198.0 C863.3,203.5 891.7,213.0 920.0,225.0 C948.3,237.0 986.7,262.5 1000.0,270.0 " fill="none" stroke="url(#cldG)" stroke-width="7"/><path d="M461.0,552.0 C459.5,560.7 447.5,584.7 452.0,604.0 C456.5,623.3 473.3,652.0 488.0,668.0 C502.7,684.0 524.7,694.0 540.0,700.0 C555.3,706.0 573.3,703.3 580.0,704.0 L580.0,704.0 C574.2,700.8 557.5,693.2 545.0,685.0 C532.5,676.8 517.5,667.5 505.0,655.0 C492.5,642.5 477.3,627.2 470.0,610.0 C462.7,592.8 462.5,561.7 461.0,552.0 Z" fill="url(#cldG)" stroke="url(#cldG)" stroke-width="4.5" stroke-linejoin="round"/><path d="M580,704 C575,730 575,755 604,782 C585,772 560,750 555,722 C548,716 530,708 512,716 C535,700 560,698 580,704 Z" fill="url(#cldG)"/><path d="M511.8,716.2 C516.5,725.2 522.0,753.5 540.0,770.0 C558.0,786.5 593.3,804.2 620.0,815.0 C646.7,825.8 675.0,832.5 700.0,835.0 C725.0,837.5 743.8,832.5 770.0,830.0 C796.2,827.5 816.3,820.0 857.0,820.0 C897.7,820.0 973.3,837.5 1014.0,830.0 C1054.7,822.5 1079.7,790.8 1101.0,775.0 C1122.3,759.2 1131.2,750.8 1142.0,735.0 C1152.8,719.2 1162.2,697.0 1166.0,680.0 C1169.8,663.0 1167.8,651.3 1165.0,633.0 C1162.2,614.7 1151.7,580.5 1149.0,570.0 L1149.0,570.0 C1148.8,580.0 1150.7,612.8 1148.0,630.0 C1145.3,647.2 1140.8,656.7 1133.0,673.0 C1125.2,689.3 1114.8,711.0 1101.0,728.0 C1087.2,745.0 1073.5,764.7 1050.0,775.0 C1026.5,785.3 992.2,790.7 960.0,790.0 C927.8,789.3 888.7,769.7 857.0,771.0 C825.3,772.3 796.2,792.3 770.0,798.0 C743.8,803.7 725.0,806.3 700.0,805.0 C675.0,803.7 644.0,797.5 620.0,790.0 C596.0,782.5 574.0,772.3 556.0,760.0 C538.0,747.7 519.2,723.5 511.8,716.2 Z" fill="url(#cldG)" stroke="url(#cldG)" stroke-width="4.5" stroke-linejoin="round"/><path d="M500.0,200.0 C506.7,188.3 520.0,149.7 540.0,130.0 C560.0,110.3 591.7,91.7 620.0,82.0 C648.3,72.3 680.0,69.8 710.0,72.0 C740.0,74.2 774.7,80.7 800.0,95.0 C825.3,109.3 837.0,146.3 862.0,158.0 C887.0,169.7 923.7,158.0 950.0,165.0 C976.3,172.0 1003.0,184.5 1020.0,200.0 C1037.0,215.5 1046.7,248.3 1052.0,258.0 L1010.0,262.0 C1006.7,255.8 1002.5,235.7 990.0,225.0 C977.5,214.3 960.3,204.5 935.0,198.0 C909.7,191.5 863.0,198.2 838.0,186.0 C813.0,173.8 806.3,138.2 785.0,125.0 C763.7,111.8 734.2,108.2 710.0,107.0 C685.8,105.8 663.7,108.8 640.0,118.0 C616.3,127.2 587.2,143.3 568.0,162.0 C548.8,180.7 532.2,218.7 525.0,230.0 Z" fill="url(#cldG)" stroke="url(#cldG)" stroke-width="4.5" stroke-linejoin="round"/><path d="M990.0,255.0 C1008.3,256.2 1063.3,254.5 1100.0,262.0 C1136.7,269.5 1171.7,276.2 1210.0,300.0 C1248.3,323.8 1300.0,365.0 1330.0,405.0 C1360.0,445.0 1382.5,499.2 1390.0,540.0 C1397.5,580.8 1391.7,620.0 1375.0,650.0 C1358.3,680.0 1327.5,701.7 1290.0,720.0 C1252.5,738.3 1173.3,753.3 1150.0,760.0 L1150.0,745.0 C1168.3,736.7 1232.0,715.0 1260.0,695.0 C1288.0,675.0 1307.2,650.8 1318.0,625.0 C1328.8,599.2 1332.2,572.5 1325.0,540.0 C1317.8,507.5 1299.2,463.3 1275.0,430.0 C1250.8,396.7 1210.8,361.7 1180.0,340.0 C1149.2,318.3 1118.3,308.0 1090.0,300.0 C1061.7,292.0 1023.3,293.3 1010.0,292.0 Z" fill="url(#cldG)" stroke="url(#cldG)" stroke-width="4.5" stroke-linejoin="round"/><path d="M1160.0,248.0 C1175.8,252.0 1225.0,256.7 1255.0,272.0 C1285.0,287.3 1309.2,326.2 1340.0,340.0 C1370.8,353.8 1410.0,343.3 1440.0,355.0 C1470.0,366.7 1503.0,390.0 1520.0,410.0 C1537.0,430.0 1542.0,451.7 1542.0,475.0 C1542.0,498.3 1531.7,529.2 1520.0,550.0 C1508.3,570.8 1478.5,579.5 1472.0,600.0 C1465.5,620.5 1484.8,647.7 1481.0,673.0 C1477.2,698.3 1467.5,725.7 1449.0,752.0 C1430.5,778.3 1402.8,808.7 1370.0,831.0 C1337.2,853.3 1291.5,872.8 1252.0,886.0 C1212.5,899.2 1172.5,908.7 1133.0,910.0 C1093.5,911.3 1049.2,903.8 1015.0,894.0 C980.8,884.2 942.5,858.2 928.0,851.0 L928.0,851.0 C942.3,850.8 985.2,849.8 1014.0,850.0 C1042.8,850.2 1070.0,853.3 1101.0,852.0 C1132.0,850.7 1163.5,850.7 1200.0,842.0 C1236.5,833.3 1286.7,816.2 1320.0,800.0 C1353.3,783.8 1380.7,766.7 1400.0,745.0 C1419.3,723.3 1431.3,696.7 1436.0,670.0 C1440.7,643.3 1421.0,606.7 1428.0,585.0 C1435.0,563.3 1466.5,557.5 1478.0,540.0 C1489.5,522.5 1496.3,498.0 1497.0,480.0 C1497.7,462.0 1494.8,447.0 1482.0,432.0 C1469.2,417.0 1449.5,401.7 1420.0,390.0 C1390.5,378.3 1335.0,378.3 1305.0,362.0 C1275.0,345.7 1264.2,311.0 1240.0,292.0 C1215.8,273.0 1173.3,255.3 1160.0,248.0 Z" fill="url(#cldG)" stroke="url(#cldG)" stroke-width="4.5" stroke-linejoin="round"/></g>
<linearGradient id="pcSide" x1="0" y1="0" x2="1" y2="0.25" gradientUnits="objectBoundingBox"><stop offset="0" stop-color="#303030"/><stop offset="0.35" stop-color="#4a4a4a"/><stop offset="0.6" stop-color="#3e3e3e"/><stop offset="1" stop-color="#2e2e2e"/></linearGradient><linearGradient id="pcFront" x1="0" y1="0" x2="1" y2="0" gradientUnits="objectBoundingBox"><stop offset="0" stop-color="#262626"/><stop offset="0.5" stop-color="#383838"/><stop offset="0.85" stop-color="#2c2c2c"/><stop offset="1" stop-color="#6a6a6a"/></linearGradient><linearGradient id="pcTop" x1="0" y1="0" x2="1" y2="0" gradientUnits="objectBoundingBox"><stop offset="0" stop-color="#484848"/><stop offset="1" stop-color="#363636"/></linearGradient><radialGradient id="pcStand" cx="0.5" cy="0.4" r="0.6" gradientUnits="objectBoundingBox"><stop offset="0" stop-color="#2a2a2a"/><stop offset="0.5" stop-color="#050505"/><stop offset="1" stop-color="#000000"/></radialGradient><g id="pc"><ellipse cx="32.8" cy="58.6" rx="12.2" ry="6.2" fill="url(#pcStand)"/><ellipse cx="33.5" cy="55.5" rx="1.6" ry="0.9" fill="#8a8a8a"/><polygon points="10.90,11.00 53.00,27.40 53.00,63.80 10.90,44.70" fill="#050608" stroke="#050608" stroke-width="0.6" stroke-linejoin="round"/><polygon points="12.30,12.60 53.00,28.50 53.00,62.30 12.30,43.80" fill="#04599b" /><polygon points="50.80,28.40 83.20,14.80 96.00,17.20 96.00,62.80 63.20,82.00 50.80,75.20" fill="#2c2c2c" stroke="#2c2c2c" stroke-width="1" stroke-linejoin="round"/><polygon points="63.20,32.80 96.00,17.20 96.00,62.80 63.20,82.00" fill="url(#pcSide)" /><polygon points="50.80,28.40 63.20,32.80 63.20,82.00 50.80,75.20" fill="url(#pcFront)" /><polygon points="50.80,28.40 83.20,14.80 96.00,17.20 63.20,32.80" fill="url(#pcTop)" /><polyline points="51.00,28.60 63.20,33.00 63.20,81.50" fill="none" stroke="#6e6e6e" stroke-width="0.8"/><path d="M57.5,31.5 C56.5,40 55,46 55.2,52.6" fill="none" stroke="#4a4a4a" stroke-width="1.2"/><line x1="51" y1="52.2" x2="63" y2="56.4" stroke="#1a1a1a" stroke-width="0.8"/><circle cx="56.7" cy="62.6" r="1.5" fill="#111"/><circle cx="56.7" cy="62.6" r="1.5" fill="none" stroke="#555" stroke-width="0.4"/></g><linearGradient id="monScr" x1="0" y1="0" x2="1" y2="1" gradientUnits="objectBoundingBox"><stop offset="0" stop-color="#0a5ea6"/><stop offset="0.5" stop-color="#0f69b4"/><stop offset="1" stop-color="#0a5a9e"/></linearGradient><g id="smon"><ellipse cx="17.2" cy="34.6" rx="8.9" ry="4.7" fill="url(#pcStand)"/><ellipse cx="17.4" cy="32.8" rx="1.2" ry="0.7" fill="#999"/><polygon points="0.60,0.40 36.40,14.60 36.40,41.00 0.60,25.40" fill="#06080c" stroke="#06080c" stroke-width="0.6" stroke-linejoin="round"/><polygon points="0.50,0.20 36.40,14.40 36.40,15.40 0.50,1.40" fill="#8a8f96" /><polygon points="1.80,2.60 35.20,15.80 35.20,38.60 1.80,24.20" fill="url(#monScr)" /><path d="M6,4.4 C11,9 13,15 10,23.6 L13.5,25.2 C17,18 15,10.5 9.5,5.8 Z" fill="#5c9fd6" fill-opacity="0.55"/><path d="M13.5,25.2 C18,20.5 24,19 30,21 C26,21.5 21,24 18.5,27.4 Z" fill="#5c9fd6" fill-opacity="0.4"/><path d="M22,10.6 C26,16 26,22 23,29.2 L25.5,30.3 C28.5,23 28,17 25,11.8 Z" fill="#4a90cc" fill-opacity="0.35"/></g><linearGradient id="pipeG" x1="0" y1="0" x2="1" y2="0" gradientUnits="objectBoundingBox"><stop offset="0" stop-color="#bdbdbd"/><stop offset="0.12" stop-color="#cfcfcf"/><stop offset="0.45" stop-color="#f6f6f6"/><stop offset="0.75" stop-color="#dedede"/><stop offset="1" stop-color="#c2c2c2"/></linearGradient><g id="pipe"><path d="M0.5,7.5 A19,7.5 0 0 1 38.5,7.5 L38.5,245.8 A19,7.8 0 0 1 0.5,245.8 Z" fill="url(#pipeG)" stroke="#8a8a8a" stroke-width="1"/><ellipse cx="19.5" cy="245" rx="16" ry="6.4" fill="#fdfdfd" stroke="#9a9a9a" stroke-width="1"/></g><linearGradient id="flTop" x1="0" y1="0" x2="1" y2="1" gradientUnits="objectBoundingBox"><stop offset="0" stop-color="#383838"/><stop offset="0.5" stop-color="#4a4a4a"/><stop offset="1" stop-color="#404040"/></linearGradient><linearGradient id="flSide" x1="0" y1="0" x2="1" y2="0" gradientUnits="objectBoundingBox"><stop offset="0" stop-color="#3a3a3a"/><stop offset="0.5" stop-color="#454545"/><stop offset="1" stop-color="#3a3a3a"/></linearGradient><linearGradient id="flFront" x1="0" y1="0" x2="1" y2="0" gradientUnits="objectBoundingBox"><stop offset="0" stop-color="#a8a8ac"/><stop offset="0.5" stop-color="#c4c4c8"/><stop offset="1" stop-color="#b2b2b6"/></linearGradient><g id="flat"><polygon points="66.50,12.90 127.90,33.90 127.90,54.90 73.00,86.30 11.60,58.40 11.60,36.10" fill="#3a3a3a" stroke="#3a3a3a" stroke-width="1" stroke-linejoin="round"/><polygon points="11.60,36.10 73.00,62.70 73.00,86.30 11.60,58.40" fill="url(#flFront)" /><polygon points="73.00,62.70 127.90,33.90 127.90,54.90 73.00,86.30" fill="url(#flSide)" /><polygon points="66.50,12.90 127.90,33.90 73.00,62.70 11.60,36.10" fill="url(#flTop)" /><polygon points="13.50,36.60 71.50,61.80 60.00,64.00 20.50,46.80" fill="#3d3d3d" /><polygon points="20.20,55.80 59.50,72.80 68.50,84.40 15.00,61.00" fill="#363636" /><circle cx="37.5" cy="59.8" r="1.4" fill="#1a1a1a"/></g><linearGradient id="wfTop" x1="0" y1="0" x2="1" y2="0" gradientUnits="objectBoundingBox"><stop offset="0" stop-color="#b4b4b4"/><stop offset="0.5" stop-color="#a4a4a4"/><stop offset="1" stop-color="#8e8e8e"/></linearGradient><linearGradient id="wfAnt" x1="0" y1="0" x2="1" y2="0" gradientUnits="objectBoundingBox"><stop offset="0" stop-color="#0a0a0a"/><stop offset="0.5" stop-color="#3c3c3c"/><stop offset="1" stop-color="#050505"/></linearGradient><g id="wifi"><path d="M31.90,70 L33.30,9.6 Q35.30,4.6 37.30,9.6 L38.70,70 Z" fill="url(#wfAnt)"/><path d="M112.60,70 L114.00,9.6 Q116.00,4.6 118.00,9.6 L119.40,70 Z" fill="url(#wfAnt)"/><ellipse cx="24" cy="106" rx="4.5" ry="1.6" fill="#3a3a3a"/><ellipse cx="128.8" cy="106" rx="4.5" ry="1.6" fill="#3a3a3a"/><polygon points="19.90,69.50 132.90,69.50 142.60,86.90 9.20,86.90" fill="url(#wfTop)" /><rect x="9.2" y="86.7" width="133.4" height="3" fill="#e2e2e2"/><path d="M9.2,89.5 H142.6 V103.5 Q142.6,105.8 140,105.8 H11.8 Q9.2,105.8 9.2,103.5 Z" fill="#050505"/><path d="M20,89.8 V99 Q20,101.3 22.5,101.3 H129.5 Q132,101.3 132,99 V89.8" fill="none" stroke="#e8e8e8" stroke-width="0.6"/><rect x="26.4" y="94.6" width="78" height="4.1" rx="2" fill="#b4b4b4" stroke="#e4e4e4" stroke-width="0.9"/><line x1="75" y1="96.6" x2="101" y2="96.6" stroke="#e8f6e8" stroke-width="1.4" stroke-dasharray="5 3"/><path d="M115,94.8 H108.5 Q106.3,96.6 108.5,98.6 H115" fill="none" stroke="#d0d0d0" stroke-width="1"/><rect x="114.5" y="91.5" width="9.2" height="8.2" fill="#3db548"/><circle cx="119" cy="97" r="1.2" fill="#1c5a22"/></g>
<linearGradient id="tbBody" x1="0" y1="0" x2="1" y2="1" gradientUnits="objectBoundingBox"><stop offset="0" stop-color="#f4f4f4"/><stop offset="0.6" stop-color="#e6e6e6"/><stop offset="1" stop-color="#cfcfcf"/></linearGradient><linearGradient id="tbBezel" x1="372" y1="422" x2="1085" y2="710" gradientUnits="userSpaceOnUse"><stop offset="0" stop-color="#303030"/><stop offset="0.455" stop-color="#4c4c4c"/><stop offset="0.465" stop-color="#303030"/><stop offset="1" stop-color="#3a3a3a"/></linearGradient><linearGradient id="tbScr" x1="0.1" y1="0" x2="0.8" y2="1" gradientUnits="objectBoundingBox"><stop offset="0" stop-color="#1f93da"/><stop offset="0.4" stop-color="#0a7ccb"/><stop offset="1" stop-color="#005aad"/></linearGradient><linearGradient id="tbGloss" x1="0" y1="0" x2="1" y2="0" gradientUnits="objectBoundingBox"><stop offset="0" stop-color="#ffffff" stop-opacity="0.02"/><stop offset="1" stop-color="#ffffff" stop-opacity="0.16"/></linearGradient><g id="tablet" transform="scale(0.1289)"><path d="M300,58 L1345,140 Q1395,146 1384,196 L1178,1050 Q1168,1092 1122,1082 L95,822 Q58,812 68,776 L262,92 Q272,54 300,58 Z" fill="url(#tbBody)" stroke="#c4c4c4" stroke-width="6"/><path d="M312,74 L1290,136 Q1335,140 1324,184 L1112,1012 Q1102,1052 1060,1042 L100,806 Q62,796 72,760 L272,104 Q282,70 312,74 Z" fill="url(#tbBezel)"/><path d="M330,150 L1205,212 Q1222,214 1218,230 L1054,884 Q1050,898 1036,894 L172,738 Q156,734 161,720 L314,162 Q318,149 330,150 Z" fill="url(#tbScr)"/><path d="M330,150 L848,190 L598,815 L172,738 Q156,734 161,720 L314,162 Q318,149 330,150 Z" fill="url(#tbGloss)"/><g transform="translate(665,495) rotate(8) skewX(-12)"><path d="M-88,-72 C-60,-118 -28,-124 0,-104 L-12,-22 C-40,-44 -72,-36 -100,-6 Z" fill="#f26a2e"/><path d="M14,-98 C42,-72 74,-72 104,-100 L92,-18 C62,10 30,10 2,-16 Z" fill="#78c143"/><path d="M-104,10 C-76,-20 -44,-28 -16,-6 L-28,78 C-56,56 -88,62 -116,94 Z" fill="#8fb4e8"/><path d="M0,0 C28,26 60,26 90,-2 L78,82 C48,110 16,110 -12,84 Z" fill="#ffe14a"/><path d="M-96,-40 C-60,-70 -20,-60 0,-40 C30,-20 70,-20 100,-46 L96,-20 C66,4 30,4 0,-16 C-30,-36 -66,-30 -100,-6 Z" fill="#ffffff" fill-opacity="0.35"/></g><line x1="1354" y1="210" x2="1308" y2="412" stroke="#2e2e2e" stroke-width="13" stroke-dasharray="9 8"/><path d="M1232,678 L1256,682 L1240,752 L1216,748 Z" fill="#9a9a9a" stroke="#7c7c7c" stroke-width="4"/><path d="M1198,815 L1222,820 L1200,910 L1176,905 Z" fill="#9a9a9a" stroke="#7c7c7c" stroke-width="4"/></g><linearGradient id="prLid" x1="0" y1="0" x2="1" y2="1" gradientUnits="objectBoundingBox"><stop offset="0" stop-color="#ececec"/><stop offset="0.5" stop-color="#d2d2d2"/><stop offset="1" stop-color="#bcbcbc"/></linearGradient><linearGradient id="prTray" x1="0" y1="0" x2="1" y2="1" gradientUnits="objectBoundingBox"><stop offset="0" stop-color="#5f7fae"/><stop offset="0.5" stop-color="#486b9f"/><stop offset="1" stop-color="#30548a"/></linearGradient><linearGradient id="prPanel" x1="0" y1="0" x2="1" y2="0" gradientUnits="objectBoundingBox"><stop offset="0" stop-color="#cfcfcf"/><stop offset="0.3" stop-color="#ededed"/><stop offset="1" stop-color="#dadada"/></linearGradient><linearGradient id="prBody" x1="0" y1="0" x2="1" y2="0" gradientUnits="objectBoundingBox"><stop offset="0" stop-color="#c6c6c6"/><stop offset="0.35" stop-color="#efefef"/><stop offset="1" stop-color="#d0d0d0"/></linearGradient><linearGradient id="prBase" x1="0" y1="0" x2="0" y2="1" gradientUnits="objectBoundingBox"><stop offset="0" stop-color="#25497f"/><stop offset="1" stop-color="#173865"/></linearGradient><linearGradient id="prSide" x1="0" y1="0" x2="1" y2="1" gradientUnits="objectBoundingBox"><stop offset="0" stop-color="#1a3a6c"/><stop offset="1" stop-color="#122b54"/></linearGradient><linearGradient id="prSlot" x1="0" y1="0" x2="0" y2="1" gradientUnits="objectBoundingBox"><stop offset="0" stop-color="#5a5a5a"/><stop offset="0.4" stop-color="#b8b8b8"/><stop offset="1" stop-color="#ececec"/></linearGradient><g id="printer" transform="scale(0.15115)"><path d="M880,420 L1055,285 Q1068,300 1068,330 L1052,790 Q1050,812 1030,828 L812,1028 L750,1035 L760,620 Z" fill="url(#prSide)"/><path d="M880,420 L1055,285 Q1068,300 1068,330 L1064,398 L872,540 Z" fill="#d6d6d6"/><path d="M872,540 L1064,398 L1063,418 Q900,540 800,640 L770,620 Z" fill="#b4b4b4"/><line x1="908" y1="628" x2="975" y2="578" stroke="#c9d3e4" stroke-width="6"/><line x1="908" y1="643" x2="975" y2="593" stroke="#c9d3e4" stroke-width="6"/><line x1="908" y1="658" x2="975" y2="608" stroke="#c9d3e4" stroke-width="6"/><line x1="908" y1="673" x2="975" y2="623" stroke="#c9d3e4" stroke-width="6"/><line x1="908" y1="688" x2="975" y2="638" stroke="#c9d3e4" stroke-width="6"/><line x1="908" y1="703" x2="975" y2="653" stroke="#c9d3e4" stroke-width="6"/><line x1="908" y1="718" x2="975" y2="668" stroke="#c9d3e4" stroke-width="6"/><line x1="908" y1="733" x2="975" y2="683" stroke="#c9d3e4" stroke-width="6"/><line x1="908" y1="748" x2="975" y2="698" stroke="#c9d3e4" stroke-width="6"/><line x1="908" y1="763" x2="975" y2="713" stroke="#c9d3e4" stroke-width="6"/><path d="M145,838 L752,884 L752,1036 L690,1040 L620,1010 L160,972 Q145,968 145,950 Z" fill="url(#prBase)"/><line x1="150" y1="880" x2="748" y2="926" stroke="#3a5f96" stroke-width="3" stroke-opacity="0.7"/><line x1="150" y1="896" x2="748" y2="942" stroke="#3a5f96" stroke-width="3" stroke-opacity="0.7"/><line x1="150" y1="912" x2="748" y2="958" stroke="#3a5f96" stroke-width="3" stroke-opacity="0.7"/><line x1="150" y1="928" x2="748" y2="974" stroke="#3a5f96" stroke-width="3" stroke-opacity="0.7"/><line x1="150" y1="944" x2="748" y2="990" stroke="#3a5f96" stroke-width="3" stroke-opacity="0.7"/><line x1="150" y1="960" x2="748" y2="1006" stroke="#3a5f96" stroke-width="3" stroke-opacity="0.7"/><path d="M138,575 L760,615 L800,640 L752,884 L145,838 Z" fill="url(#prBody)"/><path d="M240,600 L655,640 L655,782 L240,742 Z" fill="url(#prSlot)"/><path d="M305,612 L652,645 L652,692 L298,660 Z" fill="#222222"/><path d="M395,690 Q385,688 383,700 L378,740 Q378,750 390,752 L525,762 Q540,762 542,750 L548,712 Q548,700 535,698 Z" fill="#f0f0f0" stroke="#3a3a3a" stroke-width="6"/><path d="M245,822 L640,858 L640,872 L245,836 Z" fill="#0a0a0a"/><path d="M165,300 Q140,330 130,430 Q118,520 138,578 L760,616 Q860,590 872,560 L882,420 L460,368 L420,280 Z" fill="url(#prPanel)"/><path d="M390,122 L1050,268 Q1062,280 1050,292 L880,418 L460,366 L420,278 L168,296 Z" fill="url(#prLid)"/><path d="M462,352 L905,282 L1000,300 L838,392 Z" fill="#b0b0b0"/><path d="M170,296 Q300,250 420,280 L460,368 Q300,330 150,400 Z" fill="#b6b6b6"/><path d="M440,288 L585,148 Q640,132 692,150 L700,166 Q860,160 916,214 Q905,250 800,282 Q650,322 470,312 Q440,305 440,288 Z" fill="url(#prTray)"/><path d="M440,288 Q640,262 900,228 Q905,250 800,282 Q650,322 470,312 Q440,305 440,288 Z" fill="#2b4f86"/><path d="M440,400 Q510,360 580,412 Z" fill="#9a9a9a"/><path d="M412,420 L575,436 Q588,438 586,452 L575,520 Q573,532 560,530 L398,516 Q386,514 388,502 L400,432 Q402,420 412,420 Z" fill="#5f7cab" stroke="#46608c" stroke-width="4"/><path d="M420,440 L568,454 L564,482 L416,468 Z" fill="#e4ecf8"/><path d="M222,400 L268,402 Q290,404 286,426 L272,484 Q268,500 250,500 L204,498 Q186,496 190,478 L204,416 Q208,400 222,400 Z" fill="#f4f4f4" stroke="#8a8a8a" stroke-width="4"/><ellipse cx="310" cy="446" rx="11" ry="8" fill="#9be07a"/><ellipse cx="355" cy="450" rx="11" ry="8" fill="#9be07a"/><ellipse cx="296" cy="490" rx="11" ry="8" fill="#9be07a"/><ellipse cx="345" cy="493" rx="11" ry="8" fill="#9be07a"/><ellipse cx="612" cy="458" rx="11" ry="8" fill="#9be07a"/><ellipse cx="658" cy="462" rx="12" ry="8" fill="#3d5a92"/><ellipse cx="700" cy="465" rx="12" ry="8" fill="#3d5a92"/><ellipse cx="742" cy="468" rx="12" ry="8" fill="#3d5a92"/><ellipse cx="649" cy="483" rx="12" ry="8" fill="#3d5a92"/><ellipse cx="691" cy="486" rx="12" ry="8" fill="#3d5a92"/><ellipse cx="733" cy="489" rx="12" ry="8" fill="#3d5a92"/><ellipse cx="640" cy="504" rx="12" ry="8" fill="#3d5a92"/><ellipse cx="682" cy="507" rx="12" ry="8" fill="#3d5a92"/><ellipse cx="724" cy="510" rx="12" ry="8" fill="#3d5a92"/><ellipse cx="631" cy="525" rx="12" ry="8" fill="#3d5a92"/><ellipse cx="673" cy="528" rx="12" ry="8" fill="#3d5a92"/><ellipse cx="715" cy="531" rx="12" ry="8" fill="#3d5a92"/><ellipse cx="626" cy="560" rx="17" ry="13" fill="#ee3b3b"/><ellipse cx="682" cy="565" rx="17" ry="13" fill="#3fc25a"/><ellipse cx="797" cy="478" rx="15" ry="12" fill="#3a98e8"/></g>
</defs>
<rect width="1631" height="1125" fill="#fbfbfb"/><polygon points="189.80,0.00 447.80,0.00 -326.54,1125.00 -584.54,1125.00" fill="#ffffff" /><polygon points="999.20,0.00 1257.10,0.00 482.76,1125.00 224.86,1125.00" fill="#ffffff" /><polygon points="1808.60,0.00 2066.50,0.00 1292.16,1125.00 1034.26,1125.00" fill="#ffffff" />
<rect x="476.7" y="122.6" width="465.8" height="335.1" fill="none" stroke="#c3a36e" stroke-width="2.8" stroke-dasharray="6 14.33"/>
<rect x="1194.5" y="133.6" width="326.7" height="234.8" fill="none" stroke="#c3a36e" stroke-width="2.8" stroke-dasharray="6 14.33"/>
<line x1="394.7" y1="696.4" x2="1252.6" y2="695.3" stroke="#c3a36e" stroke-width="3" stroke-dasharray="31.9 14.52"/>
<g id="lines"><polyline points="589.00,331.00 589.00,399.80 640.00,399.80" fill="none" stroke="#00adef" stroke-width="3"/><polyline points="825.00,331.00 825.00,399.80 770.00,399.80" fill="none" stroke="#00adef" stroke-width="3"/><polyline points="706.60,331.00 706.60,760.00" fill="none" stroke="#00adef" stroke-width="3"/><polyline points="580.00,581.70 880.00,581.70" fill="none" stroke="#00adef" stroke-width="3"/><polyline points="550.00,789.20 630.00,789.20" fill="none" stroke="#00adef" stroke-width="3"/><polyline points="820.00,789.20 950.00,789.20" fill="none" stroke="#00adef" stroke-width="3"/><polyline points="697.60,800.00 697.60,886.60" fill="none" stroke="#00adef" stroke-width="3"/><polyline points="565.40,930.00 565.40,886.60 849.60,886.60 849.60,980.00" fill="none" stroke="#00adef" stroke-width="3"/><polyline points="1080.00,788.40 1120.00,788.40" fill="none" stroke="#1a1a1a" stroke-width="2"/><polyline points="1150.00,812.50 1180.00,812.50" fill="none" stroke="#1a1a1a" stroke-width="2"/><polyline points="1150.00,888.80 1180.00,888.80" fill="none" stroke="#1a1a1a" stroke-width="2"/><polyline points="1150.00,964.50 1195.00,964.50" fill="none" stroke="#1a1a1a" stroke-width="2"/><polyline points="1290.00,630.50 1360.00,630.50" fill="none" stroke="#1a1a1a" stroke-width="2"/><polyline points="1385.00,657.50 1415.00,657.50" fill="none" stroke="#1a1a1a" stroke-width="2"/><polyline points="1385.00,733.50 1415.00,733.50" fill="none" stroke="#1a1a1a" stroke-width="2"/><polyline points="1385.00,817.00 1430.00,817.00" fill="none" stroke="#1a1a1a" stroke-width="2"/></g>
<g id="towers"><use href="#tower" x="546.6" y="218.7"/><use href="#globe" transform="translate(609.1,309.3)"/><use href="#tower" x="664.3" y="218.7"/><use href="#globe" transform="translate(726.8,309.3)"/><use href="#tower" x="782.0" y="218.7"/><use href="#globe" transform="translate(844.5,309.3)"/><use href="#tower" transform="translate(1314.4,152.8) scale(0.925)"/><use href="#cyl" transform="translate(1357.9,210.8)"/><use href="#tower" transform="translate(516.7,923) scale(1.05)"/><use href="#key" transform="translate(561,1004.5)"/></g>
<g id="switches"><use href="#switch" x="629.1" y="368.6"/><use href="#switch" transform="translate(622.2,747.5) scale(1.334)"/><use href="#switch" transform="translate(942,760) scale(0.93)"/><use href="#router" x="445.3" y="556"/><use href="#router" x="870.5" y="556"/></g>
<g id="bolts"><polygon points="368.20,567.00 415.10,557.50 408.00,581.10 446.10,581.50 399.20,590.90 406.60,567.30" fill="url(#boltG)" filter="url(#boltSh)"/><polygon points="352.10,810.80 387.40,782.10 391.10,806.70 423.80,789.10 388.90,818.50 384.80,793.80" fill="url(#boltG)" filter="url(#boltSh)"/><polygon points="1013.70,581.60 1085.90,577.50 1075.60,601.00 1137.40,604.70 1064.80,609.70 1075.10,585.30" fill="url(#boltG)" filter="url(#boltSh)"/><polygon points="1384.10,370.20 1357.20,506.80 1337.70,489.40 1305.20,605.50 1333.10,469.60 1353.40,487.90" fill="url(#boltG)" filter="url(#boltSh)"/></g><use href="#firewall" x="661.2" y="521.8"/>
<g id="clouds"><use href="#cloud" transform="translate(190,510)"/><use href="#cloud" transform="translate(173,753.5)"/><use href="#cloud" transform="translate(1126.6,548)"/></g>
<g id="lan"><use href="#pipe" x="1117.3" y="760.4"/><use href="#pc" x="1160.0" y="765.0"/><use href="#pc" x="1160.0" y="841.2"/><use href="#tower" transform="translate(1189.8,927.5) scale(0.755)"/><use href="#smon" x="1225.0" y="974.0"/><use href="#pipe" x="1353.1" y="605.4"/><use href="#pc" x="1395.8" y="610.0"/><use href="#pc" x="1395.8" y="686.2"/><use href="#tower" transform="translate(1427.0,772.5) scale(0.755)"/><use href="#smon" x="1462.2" y="819.0"/></g><use href="#flat" x="780" y="960"/><use href="#wifi" x="415" y="705"/>
<use href="#tablet" x="0" y="0" transform="translate(85,355)"/><use href="#printer" transform="translate(80,840)"/>
<g id="labels" style="opacity:0.999"><text transform="translate(849,68.3) scale(1,0.97)" font-family="'Liberation Serif','Noto Serif CJK SC',serif" font-size="45" font-weight="400" fill="#434343" text-anchor="middle" >信息中心网络</text><text transform="translate(601.5,162.1) scale(1.04,0.93)" font-family="'Liberation Serif','Noto Serif CJK SC',serif" font-size="24" font-weight="400" fill="#404040" text-anchor="middle" >隔离区</text><text transform="translate(1353.5,282.6) scale(1,0.93)" font-family="'Liberation Serif','Noto Serif CJK SC',serif" font-size="24" font-weight="400" fill="#626262" text-anchor="middle" >备份服务器</text><text transform="translate(1305.5,348.6) scale(1,0.93)" font-family="'Liberation Serif','Noto Serif CJK SC',serif" font-size="24" font-weight="400" fill="#3c3c3c" text-anchor="middle" letter-spacing="1">备份中心</text><text transform="translate(106,514) scale(1,0.93)" font-size="24" fill="#505050"><tspan font-family="'Liberation Sans','Noto Sans CJK SC',sans-serif" letter-spacing="-1.5">IE</tspan><tspan font-family="'Liberation Serif','Noto Serif CJK SC',serif" font-weight="400" fill="#626262" dx="1">浏览器</tspan></text><text transform="translate(284.5,574.1) scale(1.05,0.93)" font-family="'Liberation Serif','Noto Serif CJK SC',serif" font-size="24" font-weight="400" fill="#484848" text-anchor="middle" >网络</text><text transform="translate(517.5,631.6) scale(1,0.93)" font-family="'Liberation Serif','Noto Serif CJK SC',serif" font-size="24" font-weight="400" fill="#626262" text-anchor="middle" >互联网路由器</text><text transform="translate(942.5,631.6) scale(1,0.93)" font-family="'Liberation Serif','Noto Serif CJK SC',serif" font-size="24" font-weight="400" fill="#626262" text-anchor="middle" >互联网路由器</text><text transform="translate(706.2,667.5) scale(1,1)" font-family="'Liberation Sans','Noto Sans CJK SC',sans-serif" font-size="24" font-weight="400" fill="#4e4e4e" text-anchor="middle" >Firewall</text><text transform="translate(1221.2,612.3) scale(1,1)" font-family="'Liberation Sans','Noto Sans CJK SC',sans-serif" font-size="25" font-weight="700" fill="#3c3c3c" text-anchor="middle" >DDN/FR</text><text transform="translate(268.8,800.6) scale(1,0.93)" font-family="'Liberation Serif','Noto Serif CJK SC',serif" font-size="24" font-weight="400" fill="#484848" text-anchor="middle" letter-spacing="0.8">公用电话交换</text><text transform="translate(268.5,832.6) scale(1.05,0.93)" font-family="'Liberation Serif','Noto Serif CJK SC',serif" font-size="24" font-weight="400" fill="#484848" text-anchor="middle" >网</text><text transform="translate(757.5,858.6) scale(1,0.93)" font-family="'Liberation Serif','Noto Serif CJK SC',serif" font-size="24" font-weight="400" fill="#626262" text-anchor="middle" >切换开关</text><text transform="translate(566.5,1064.1) scale(0.985,0.93)" font-family="'Liberation Serif','Noto Serif CJK SC',serif" font-size="20" font-weight="400" fill="#626262" text-anchor="middle" >应用服务器</text><text transform="translate(849,1070.6) scale(0.985,0.93)" font-family="'Liberation Serif','Noto Serif CJK SC',serif" font-size="20" font-weight="400" fill="#626262" text-anchor="middle" >应用服务器</text><text transform="translate(1189.5,1050.6) scale(1,0.93)" font-family="'Liberation Serif','Noto Serif CJK SC',serif" font-size="24" font-weight="400" fill="#626262" text-anchor="middle" >局域网</text><text transform="translate(1423.5,895.1) scale(1,0.93)" font-family="'Liberation Serif','Noto Serif CJK SC',serif" font-size="24" font-weight="400" fill="#626262" text-anchor="middle" >局域网</text></g>
</svg>
</body>
</html>
